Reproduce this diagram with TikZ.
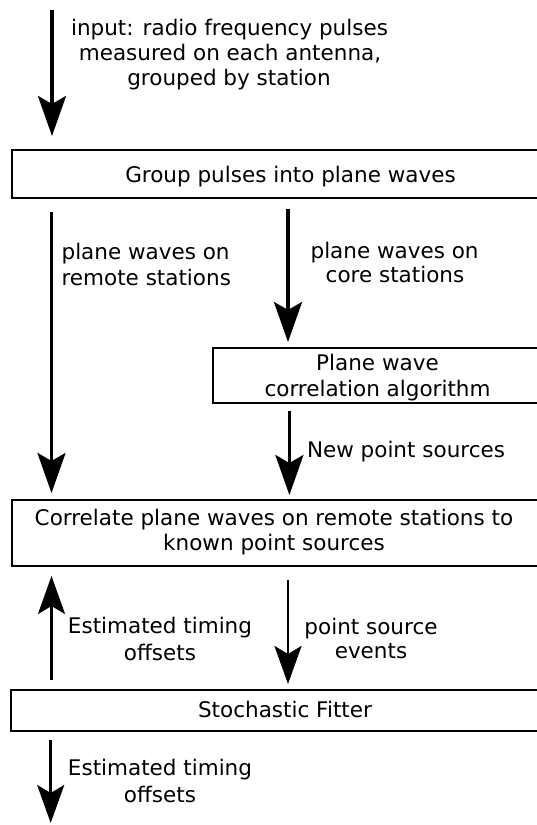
\documentclass[tikz,border=0pt]{standalone}
\usepackage{fontspec}
\setmainfont{DejaVu Sans}
\usetikzlibrary{arrows.meta}
\begin{document}
\begin{tikzpicture}[x=1pt,y=-1pt,
  box/.style={draw=black, line width=1.8pt, rectangle, inner sep=0pt, outer sep=0pt},
  txt/.style={inner sep=0pt, outer sep=0pt, anchor=base, font=\fontsize{21.5}{25.5}\selectfont},
  txtl/.style={txt, anchor=base west},
  arr/.style={line width=3.4pt, -{Stealth[length=40pt, width=28pt, inset=8pt]}},
  arrb/.style={line width=2.9pt, -{Stealth[length=38pt, width=27pt, inset=8pt]}}]
\useasboundingbox (0,0) rectangle (537,825);
% boxes
\node[box, minimum width=558pt, minimum height=48pt] (b1) at (291,174) {};
\node[box, minimum width=347pt, minimum height=55pt] (b2) at (386.5,375.5) {};
\node[box, minimum width=548pt, minimum height=66pt] (b3) at (286,533) {};
\node[box, minimum width=549pt, minimum height=41pt] (b4) at (285.5,710.5) {};
% box texts
\node[txt] (t1) at (290.5,182) {Group pulses into plane waves};
\node[txt] (t2a) at (377.5,370) {Plane wave};
\node[txt] (t2b) at (377.5,396) {correlation algorithm};
\node[txt] (t3a) at (274,525) {Correlate plane waves on remote stations to};
\node[txt] (t3b) at (274,550) {known point sources};
\node[txt] (t4) at (285,717) {Stochastic Fitter};
% connector labels
\node[txt] (l1a) at (229.5,35) {input: radio frequency pulses};
\node[txt] (l1b) at (230,60) {measured on each antenna,};
\node[txt] (l1c) at (229,85) {grouped by station};
\node[txtl] (l2a) at (61.6,259) {plane waves on};
\node[txtl] (l2b) at (61.6,285) {remote stations};
\node[txt] (l3a) at (394.6,258) {plane waves on};
\node[txt] (l3b) at (395,282) {core stations};
\node[txtl] (l4) at (307,457) {New point sources};
\node[txt] (l5a) at (160,633) {Estimated timing};
\node[txt] (l5b) at (160,660) {offsets};
\node[txt] (l6a) at (371,634) {point source};
\node[txt] (l6b) at (371,658) {events};
\node[txt] (l7a) at (160,775) {Estimated timing};
\node[txt] (l7b) at (160,802) {offsets};
% free ends and connector columns
\coordinate (in0) at (52,10);
\coordinate (out0) at (50.7,823);
\coordinate (cL) at (51.5,0);
\coordinate (cM) at (288,0);
\coordinate (cM2) at (289.4,0);
% connectors
\draw[arr, shorten >=14pt] (in0) -- (in0 |- b1.north);
\draw[arr, shorten <=14pt, shorten >=7pt] (cL |- b1.south) -- (cL |- b3.north);
\draw[arr, shorten <=11pt, shorten >=6pt] (cM |- b1.south) -- (cM |- b2.north);
\draw[arr, shorten <=8pt, shorten >=5pt] (cM2 |- b2.south) -- (cM2 |- b3.north);
\draw[arrb, shorten <=10pt, shorten >=10pt] (cL |- b4.north) -- (cL |- b3.south);
\draw[arrb, shorten <=14pt, shorten >=6pt] (cM |- b3.south) -- (cM |- b4.north);
\draw[arrb, shorten <=9pt] (out0 |- b4.south) -- (out0);
\end{tikzpicture}
\end{document}
